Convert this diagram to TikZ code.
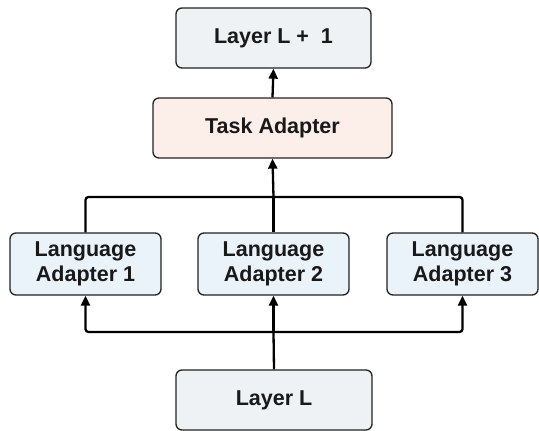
\documentclass[tikz,border=0pt]{standalone}
\usepackage{fontspec}
\setmainfont{Liberation Sans}
\usetikzlibrary{arrows.meta}
\definecolor{layerfill}{HTML}{EEF2F4}
\definecolor{taskfill}{HTML}{FCEFE9}
\definecolor{langfill}{HTML}{EAF2FA}
\definecolor{edge}{HTML}{222222}
\tikzset{
  box/.style={draw=edge, line width=1.3pt, rounded corners=6pt, align=center,
    font=\fontsize{21.5}{25}\selectfont\bfseries, text=black!90, inner sep=0pt},
  conn/.style={line width=2.3pt, draw=black},
  arr/.style={conn, -{Triangle[length=10pt,width=9pt]}}
}
\begin{document}
\begin{tikzpicture}[x=1pt,y=-1pt]
\useasboundingbox (0,0) rectangle (539,431);
\node[box, fill=layerfill, minimum width=195pt, minimum height=60pt] (l1) at (273.5,38) {Layer L +\ \ 1};
\node[box, fill=taskfill, minimum width=239pt, minimum height=60pt] (ta) at (272.5,128) {Task Adapter};
\node[box, fill=langfill, minimum width=151pt, minimum height=62pt] (la1) at (85.5,264) {Language\\Adapter 1};
\node[box, fill=langfill, minimum width=151pt, minimum height=62pt] (la2) at (273.5,264) {Language\\Adapter 2};
\node[box, fill=langfill, minimum width=151pt, minimum height=62pt] (la3) at (462.5,264) {Language\\Adapter 3};
\node[box, fill=layerfill, minimum width=196pt, minimum height=60pt] (l0) at (274,400) {Layer L};
\coordinate (bt) at (273.5,197);
\coordinate (bb) at (273.5,332);
% top bus
\draw[conn, rounded corners=3pt] (la1.north) |- (bt) -| (la3.north);
\draw[conn] (la2.north) -- (bt);
\draw[arr] (bt) -- (ta.south);
\draw[arr] (ta.north) -- (l1.south);
% bottom bus
\draw[conn] (l0.north) -- (bb);
\draw[arr, rounded corners=3pt] (bb) -| (la1.south);
\draw[arr, rounded corners=3pt] (bb) -| (la3.south);
\draw[arr] (bb) -- (la2.south);
\end{tikzpicture}
\end{document}
